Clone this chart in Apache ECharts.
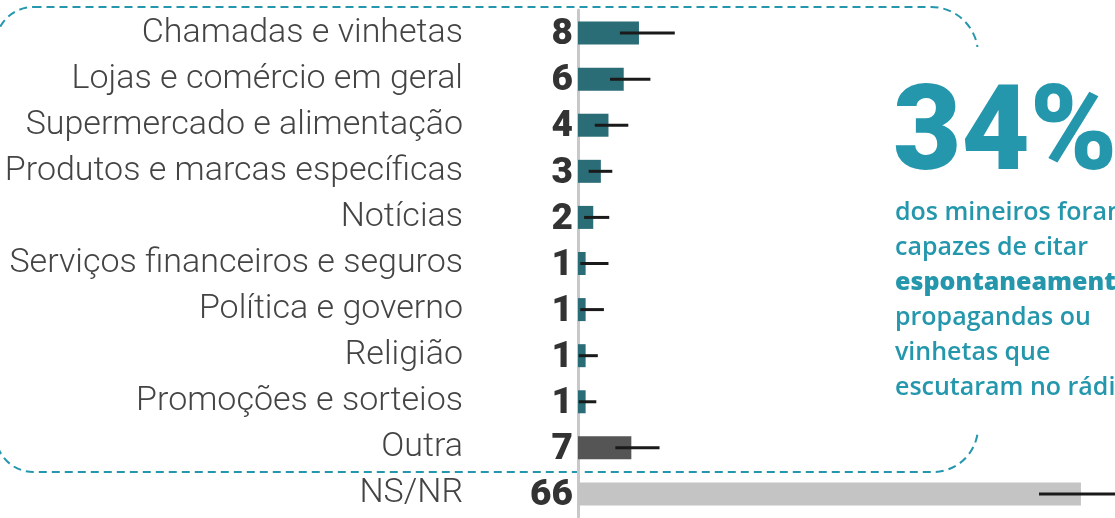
<!DOCTYPE html>
<html>
<head>
<meta charset="utf-8">
<script src="https://cdn.jsdelivr.net/npm/echarts@6/dist/echarts.min.js"></script>
<style>
  html, body { margin: 0; padding: 0; background: #fff; }
  #main { width: 1115px; height: 518px; }
</style>
</head>
<body>
<div id="main"></div>
<script>
// categorias e valores (%)
var categorias = ['Chamadas e vinhetas', 'Lojas e comércio em geral', 'Supermercado e alimentação',
  'Produtos e marcas específicas', 'Notícias', 'Serviços financeiros e seguros',
  'Política e governo', 'Religião', 'Promoções e sorteios', 'Outra', 'NS/NR'];
var valores = [8, 6, 4, 3, 2, 1, 1, 1, 1, 7, 66];
// margem de erro (limite inferior / superior)
var erroMin = [5.5, 4.2, 2.2, 1.4, 0.8, 0.3, 0.3, 0.1, 0.1, 4.9, 60.5];
var erroMax = [12.7, 9.5, 6.6, 4.5, 4.1, 4.0, 3.4, 2.6, 2.4, 10.7, 72];

var teal = '#2b6d77';
var cinzaEscuro = '#555555';
var cinzaClaro = '#c4c4c4';
var destaque = '#2597ad';

function corBarra(idx) {
  var nome = categorias[idx];
  if (nome === 'NS/NR') return cinzaClaro;
  if (nome === 'Outra') return cinzaEscuro;
  return teal;
}

var erroData = [];
for (var i = 0; i < categorias.length; i++) {
  erroData.push([erroMin[i], erroMax[i], i]);
}

var myChart = echarts.init(document.getElementById('main'));
var option = {
  animation: false,
  grid: { left: 578, right: 3.6, top: 10, bottom: 1, containLabel: false },
  xAxis: {
    type: 'value',
    min: 0,
    max: 70,
    show: false
  },
  yAxis: {
    type: 'category',
    inverse: true,
    data: categorias,
    axisTick: { show: false },
    axisLine: { show: true, lineStyle: { color: '#c8c8c8', width: 3 } },
    axisLabel: {
      margin: 115,
      color: '#444',
      fontFamily: 'Roboto',
      fontWeight: 300,
      fontSize: 34,
      padding: [7, 0, 0, 0]
    },
    splitLine: { show: false }
  },
  series: [{
    type: 'bar',
    barWidth: 23,
    data: valores,
    itemStyle: {
      color: function (p) { return corBarra(p.dataIndex); }
    },
    label: {
      show: true,
      position: 'left',
      distance: 5,
      offset: [0, 2],
      formatter: '{c}',
      color: '#333',
      fontFamily: 'Roboto',
      fontWeight: 900,
      fontSize: 37
    },
    z: 2
  }, {
    type: 'custom',
    data: erroData,
    encode: { x: [0, 1], y: 2 },
    clip: false,
    z: 3,
    renderItem: function (params, api) {
      var idx = api.value(2);
      var p1 = api.coord([api.value(0), idx]);
      var p2 = api.coord([api.value(1), idx]);
      return {
        type: 'line',
        shape: { x1: p1[0], y1: p1[1], x2: p2[0], y2: p2[1] },
        style: { stroke: '#1a1a1a', lineWidth: 3 }
      };
    }
  }],
  graphic: [{
    type: 'rect',
    z: 0,
    silent: true,
    shape: { x: -4.5, y: 7, width: 982.5, height: 465, r: [38, 47, 45, 38] },
    style: { fill: 'none', stroke: destaque, lineWidth: 2, lineDash: [8, 5] }
  }, {
    type: 'rect',
    z: 10,
    silent: true,
    shape: { x: 960, y: 47, width: 40, height: 386 },
    style: { fill: '#fff' }
  }, {
    type: 'text',
    z: 11,
    x: 893,
    y: 139,
    style: {
      text: '34%',
      fill: destaque,
      font: '900 118px Roboto',
      verticalAlign: 'middle',
      align: 'left'
    }
  }, {
    type: 'text',
    z: 11,
    x: 895,
    y: 195,
    style: {
      text: '{n|dos mineiros foram}\n{n|capazes de citar}\n{b|espontaneamente}\n{n|propagandas ou}\n{n|vinhetas que}\n{n|escutaram no rádio}',
      verticalAlign: 'top',
      align: 'left',
      rich: {
        n: { fill: destaque, fontFamily: 'Open Sans', fontWeight: 600, fontSize: 25, lineHeight: 35 },
        b: { fill: destaque, fontFamily: 'Open Sans', fontWeight: 800, fontSize: 25, lineHeight: 35 }
      }
    }
  }]
};
myChart.setOption(option);
</script>
</body>
</html>
